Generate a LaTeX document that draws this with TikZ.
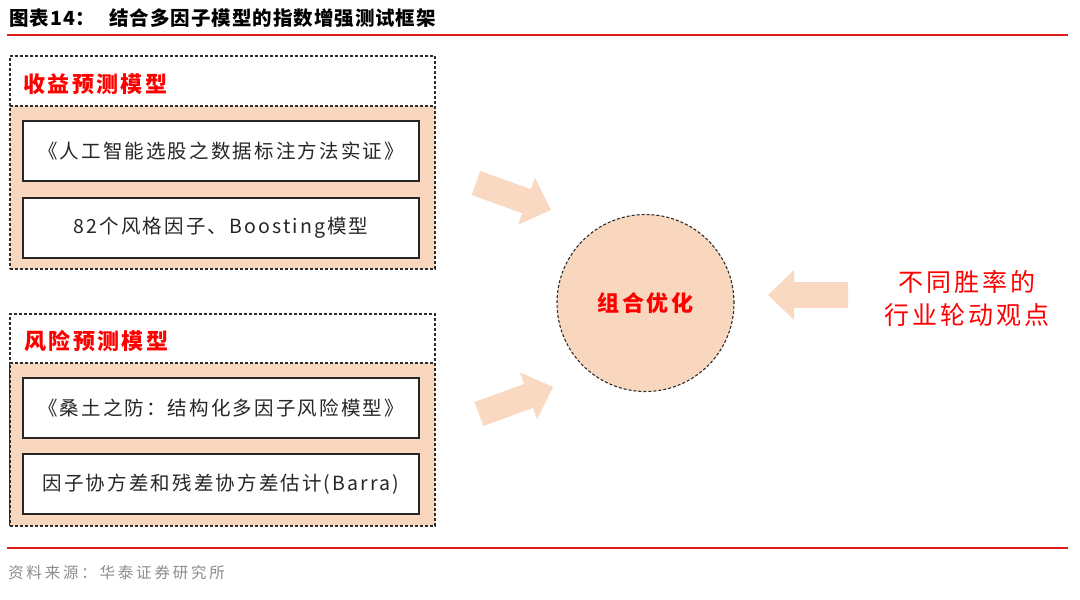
\documentclass[tikz,border=0pt]{standalone}
\usepackage{fontspec}
\setmainfont{Noto Sans CJK SC}
\usetikzlibrary{calc}
\definecolor{peach}{RGB}{249,214,190}
\definecolor{arrowpeach}{RGB}{250,217,195}
\definecolor{hred}{RGB}{255,0,0}
\definecolor{linered}{RGB}{222,30,30}
\definecolor{dashgray}{RGB}{45,45,45}
\definecolor{srcgray}{RGB}{140,140,140}
\newcommand{\lsp}[1]{\addfontfeature{LetterSpace=#1}}
\tikzset{
  outerbox/.style={draw=dashgray, dash pattern=on 3pt off 2pt, line width=1.1pt, fill=white, inner sep=0pt},
  peachbox/.style={draw=dashgray, dash pattern=on 3pt off 2pt, line width=1.1pt, fill=peach, inner sep=0pt},
  whitebox/.style={draw=black!85, line width=1.4pt, fill=white, minimum width=396pt, minimum height=60pt, inner sep=0pt, font=\fontsize{19.5}{22}\selectfont\lsp{11}, text=black!85},
  headtext/.style={anchor=west, text=hred, font=\bfseries\fontsize{22}{26}\selectfont\lsp{11}, inner sep=0pt},
  blockarrow/.style={fill=arrowpeach, draw=none},
}
\begin{document}
\begin{tikzpicture}[x=1pt,y=-1pt]
\useasboundingbox (0,0) rectangle (1080,600);
% title
\node[anchor=west, inner sep=0pt, font=\bfseries\fontsize{19.5}{22}\selectfont\lsp{5}] (title) at (9,18) {图表14：\hspace{14pt}结合多因子模型的指数增强测试框架};
\coordinate (tl1) at (7,35);
\coordinate (tl2) at (1068,35);
\draw[linered, line width=1.4pt] (tl1) -- (tl2);
% top block
\node[outerbox, minimum width=425pt, minimum height=213pt] (out1) at (222.5,162.5) {};
\node[peachbox, minimum width=425pt, minimum height=163pt] (pe1) at (222.5,187.5) {};
\node[headtext] (h1) at (23,84) {收益预测模型};
\node[whitebox] (b11) at (221,151) {《人工智能选股之数据标注方法实证》};
\node[whitebox] (b12) at (221,228) {82个风格因子、Boosting模型};
% bottom block
\node[outerbox, minimum width=425pt, minimum height=212pt] (out2) at (222.5,420) {};
\node[peachbox, minimum width=425pt, minimum height=163pt] (pe2) at (222.5,444.5) {};
\node[headtext] (h2) at (24,341) {风险预测模型};
\node[whitebox] (b21) at (221,408) {《桑土之防：结构化多因子风险模型》};
\node[whitebox] (b22) at (221,484) {因子协方差和残差协方差估计(Barra)};
% circle
\node[circle, draw=dashgray, dash pattern=on 3pt off 2pt, line width=1.1pt, fill=peach, minimum size=177pt, inner sep=0pt, text=hred, font=\bfseries\fontsize{22}{26}\selectfont\lsp{11}] (opt) at (645.5,303) {组合优化};
% right text
\node[align=center, text=hred, inner sep=0pt, font=\fontsize{25}{33}\selectfont\lsp{12}] (view) at (967,298) {不同胜率的\\行业轮动观点};
% block arrows
\coordinate (A1) at (476,183); \coordinate (B1) at (551,210);
\coordinate (A2) at (479,414); \coordinate (B2) at (553,387);
\coordinate (A3) at (848,295); \coordinate (B3) at (768,295);
\foreach \i in {1,2,3}{
  \coordinate (H\i) at ($(B\i)!26pt!(A\i)$);
  \fill[blockarrow] (B\i) -- ($(H\i)!25pt!90:(B\i)$) -- ($(H\i)!12.8pt!90:(B\i)$) -- ($(A\i)!12.8pt!90:(B\i)$) -- ($(A\i)!12.8pt!-90:(B\i)$) -- ($(H\i)!12.8pt!-90:(B\i)$) -- ($(H\i)!25pt!-90:(B\i)$) -- cycle;
}
% bottom rule and source
\coordinate (bl1) at (7,548);
\coordinate (bl2) at (1068,548);
\draw[linered, line width=1.4pt] (bl1) -- (bl2);
\node[anchor=west, inner sep=0pt, text=srcgray, font=\fontsize{15.5}{18}\selectfont\lsp{18}] (src) at (8,573) {资料来源：华泰证券研究所};
\end{tikzpicture}
\end{document}
